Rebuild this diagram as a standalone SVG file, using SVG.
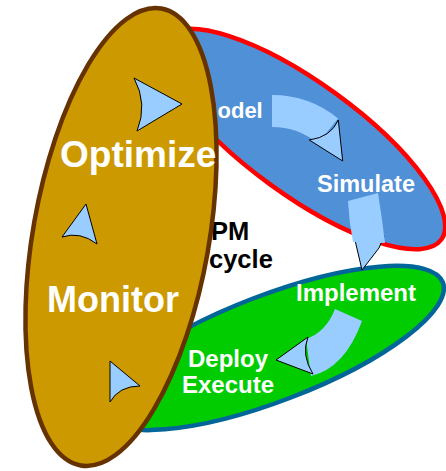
<svg xmlns="http://www.w3.org/2000/svg" width="446" height="471" viewBox="0 0 446 471">
<style>
.lbl{font-family:"Liberation Sans",Arial,sans-serif;font-weight:bold;fill:#FFFFFF}
.blk{font-family:"Liberation Sans",Arial,sans-serif;font-weight:bold;fill:#000000;font-size:25.5px}
.band{fill:#99CCFF;stroke:none}
.head{fill:#99CCFF;stroke:#000000;stroke-width:1;stroke-linejoin:miter}
</style>
<rect width="446" height="471" fill="#FFFFFF"/>
<g id="node-model-simulate">
<ellipse cx="303" cy="139" rx="171" ry="56" transform="rotate(36 303 139)" fill="#5090D6" stroke="#FF0000" stroke-width="4.5"/>
<text class="lbl" x="217.5" y="118" font-size="22">odel</text>
<text class="lbl" x="317" y="192" font-size="23.5">Simulate</text>
</g>
<g id="node-implement-deploy">
<ellipse cx="272" cy="348" rx="183" ry="53" transform="rotate(-21 272 348)" fill="#00CC00" stroke="#006699" stroke-width="4.5"/>
<text class="lbl" x="296" y="301" font-size="24">Implement</text>
<text class="lbl" x="228" y="367" font-size="24" text-anchor="middle">Deploy</text>
<text class="lbl" x="228" y="393" font-size="24" text-anchor="middle">Execute</text>
</g>
<g id="label-cycle">
<text class="blk" x="211" y="240">PM</text>
<text class="blk" x="209" y="268">cycle</text>
</g>
<g id="node-optimize-monitor">
<ellipse cx="121" cy="237" rx="88" ry="232" transform="rotate(10 121 237)" fill="#CC9900" stroke="#663300" stroke-width="4.5"/>
<text class="lbl" x="60" y="167" font-size="37">Optimize</text>
<text class="lbl" x="47" y="312" font-size="36">Monitor</text>
</g>
<g id="connectors">
<path class="band" d="M 272,95 A 105 105 0 0 1 338.1,118.4 L 317.9,143.3 A 73 73 0 0 0 272,127 Z"/>
<path class="head" d="M 338.3,120 L 342.7,161 L 309.3,140 Q 331,137 338.3,120 Z"/>
<path class="head" d="M 354,236 L 362,270 L 379,248 L 384,236 Z"/>
<path class="band" d="M 348,201 L 378,193 Q 382,218 385,243 L 353,242 Q 349,222 348,201 Z"/>
<path class="band" d="M 335,309 L 362,321 Q 345,368 311,376 L 306,339 Q 326,332 335,309 Z"/>
<path class="head" d="M 308,337 L 276,360 L 313,374 Q 301,355 308,337 Z"/>
<path class="head" d="M 134,78 L 182,104 L 137,131 Q 148,104 134,78 Z"/>
<path class="head" d="M 86,204 L 97,244 Q 80,231 62,237 Z"/>
<path class="head" d="M 110,361 L 140,386 Q 119,386 110,402 Z"/>
</g>
</svg>
